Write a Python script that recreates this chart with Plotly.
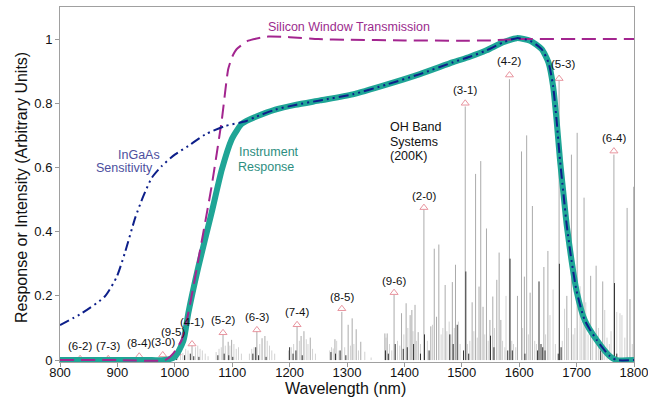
import plotly.graph_objects as go

# ---------------- data ----------------
# Silicon window transmission
si_wl = [800, 900, 983, 997, 1012, 1023.5, 1041, 1064, 1082, 1093, 1100, 1108, 1128, 1163, 1200,
         1250, 1300, 1400, 1500, 1550, 1600, 1700, 1800]
si_val = [0.0, 0.0, 0.0, 0.02, 0.0625, 0.146, 0.3125, 0.54, 0.75, 0.906, 0.945, 0.969, 0.995, 1.008, 1.006,
          1.0, 0.998, 0.996, 0.995, 0.996, 1.0, 1.0, 1.0]

# Instrument response
resp_wl = [800, 900, 960, 983, 1000, 1015, 1023.5, 1041, 1064, 1082, 1099, 1108, 1116, 1125, 1140,
           1175, 1210, 1253, 1310, 1370, 1427, 1485, 1514, 1543, 1572, 1596, 1619, 1639, 1651,
           1659, 1665, 1671, 1677, 1683, 1691, 1700, 1714, 1735, 1758, 1770, 1800]
resp_val = [0.0, 0.0, 0.0, 0.0, 0.01, 0.06, 0.146, 0.29, 0.458, 0.594, 0.6875, 0.715, 0.735, 0.745, 0.757,
            0.78, 0.795, 0.809, 0.828, 0.859, 0.891, 0.928, 0.945, 0.965, 0.99, 1.003, 0.995, 0.969, 0.927,
            0.854, 0.75, 0.625, 0.52, 0.417, 0.3125, 0.215, 0.125, 0.0625, 0.012, 0.0, 0.0]

# InGaAs sensitivity (short-wave part; beyond ~1120 nm it coincides with the response curve)
ingaas_wl = [800, 838, 878, 899, 913, 931, 945, 960, 977, 1000, 1023.5, 1053, 1087.5, 1114]
ingaas_val = [0.109, 0.146, 0.198, 0.26, 0.334, 0.443, 0.51, 0.568, 0.604, 0.64, 0.667, 0.703, 0.729, 0.74]

# OH emission lines
oh_gray_wl = [1030, 1084, 1093, 1099, 1143, 1152, 1157, 1213, 1220, 1225, 1236, 1279, 1291, 1302, 1309,
              1316, 1324, 1366, 1370, 1382, 1395, 1403, 1410, 1413, 1418.5, 1424, 1434, 1446, 1452,
              1456, 1460, 1471, 1483.5, 1489, 1506, 1518, 1524, 1530, 1533, 1537, 1543, 1549, 1554,
              1561, 1565, 1568, 1583, 1597, 1604, 1609, 1613, 1619, 1623, 1643, 1650, 1669.5, 1683,
              1691, 1701, 1713, 1724.5, 1734, 1745.5, 1765, 1788, 1793, 1799.5]
oh_gray_h = [0.045, 0.08, 0.057, 0.063, 0.09, 0.068, 0.075, 0.105, 0.075, 0.09, 0.07, 0.065, 0.15, 0.11, 0.13,
             0.096, 0.057, 0.083, 0.083, 0.203, 0.146, 0.177, 0.14, 0.156, 0.172, 0.087, 0.47, 0.105, 0.347,
             0.135, 0.36, 0.234, 0.243, 0.297, 0.79, 0.18, 0.58, 0.229, 0.62, 0.166, 0.41, 0.125, 0.198,
             0.25, 0.335, 0.125, 0.875, 0.2, 0.65, 0.26, 0.70, 0.21, 0.48, 0.29, 0.34, 0.87, 0.2,
             0.64, 0.708, 0.506, 0.2625, 0.294, 0.245, 0.64, 0.474, 0.19, 0.54]

oh_light_wl = [1005, 1010, 1014, 1019, 1023, 1036, 1040, 1044, 1048, 1053, 1058,
               1072, 1077, 1081, 1088, 1096, 1103, 1107, 1111, 1116,
               1130, 1134, 1138, 1148, 1161, 1165, 1169, 1174,
               1198, 1203, 1207, 1217, 1229, 1232, 1240, 1245,
               1270, 1273, 1276, 1282, 1286, 1296, 1306, 1312, 1320, 1331, 1342,
               1368, 1374, 1378, 1388, 1392, 1399, 1406, 1415, 1421, 1428,
               1440, 1449, 1464, 1467, 1474, 1478, 1481, 1487, 1494, 1497,
               1510, 1514, 1521, 1527, 1540, 1546, 1557, 1571, 1575,
               1577, 1587, 1590, 1594, 1606, 1616, 1627, 1630,
               1646, 1653.6, 1659, 1663, 1675, 1679, 1686, 1694, 1697, 1706, 1709, 1716, 1720,
               1728, 1738, 1741, 1749, 1753, 1757, 1760, 1770, 1775.6, 1779, 1784, 1797]
oh_light_h = [0.02, 0.028, 0.022, 0.035, 0.03, 0.04, 0.045, 0.035, 0.03, 0.02, 0.012,
              0.025, 0.035, 0.04, 0.045, 0.045, 0.05, 0.035, 0.04, 0.02,
              0.02, 0.035, 0.04, 0.05, 0.06, 0.045, 0.03, 0.02,
              0.03, 0.04, 0.05, 0.06, 0.065, 0.05, 0.035, 0.02,
              0.03, 0.04, 0.036, 0.06, 0.03, 0.04, 0.045, 0.05, 0.03, 0.026, 0.008,
              0.07, 0.05, 0.03, 0.06, 0.045, 0.08, 0.1, 0.09, 0.06, 0.05,
              0.06, 0.11, 0.08, 0.1, 0.09, 0.12, 0.08, 0.1, 0.12, 0.05,
              0.05, 0.06, 0.09, 0.07, 0.08, 0.06, 0.1, 0.06, 0.04,
              0.2, 0.06, 0.05, 0.04, 0.1, 0.08, 0.06, 0.05,
              0.08, 0.14, 0.22, 0.05, 0.06, 0.16, 0.1, 0.08, 0.1, 0.23, 0.12, 0.18, 0.08,
              0.08, 0.1, 0.06, 0.156, 0.07, 0.05, 0.09, 0.15, 0.146, 0.14, 0.07, 0.05]

oh_dark_wl = [1003, 1017, 1027, 1033, 1042, 1075, 1086, 1094, 1101, 1136, 1141, 1146, 1159,
              1200, 1206, 1211, 1222, 1272, 1280, 1288, 1298, 1367, 1372, 1384, 1398, 1405, 1416, 1428,
              1435, 1443, 1479, 1485, 1492, 1503, 1507, 1512, 1550, 1556,
              1580, 1584, 1588, 1610, 1632, 1634.5, 1638, 1641, 1645, 1668, 1670, 1673,
              1742, 1766, 1770]
oh_dark_h = [0.01, 0.015, 0.02, 0.012, 0.01, 0.015, 0.02, 0.015, 0.01, 0.02, 0.04, 0.015, 0.01,
             0.04, 0.02, 0.03, 0.015, 0.025, 0.02, 0.03, 0.015, 0.03, 0.02, 0.05, 0.035, 0.04, 0.05, 0.02,
             0.08, 0.03, 0.08, 0.05, 0.11, 0.03, 0.276, 0.02, 0.076, 0.04,
             0.03, 0.316, 0.03, 0.02, 0.03, 0.245, 0.05, 0.04, 0.03, 0.02, 0.3, 0.04,
             0.03, 0.24, 0.02]

# OH band heads
band_names = ["(6-2)", "(7-3)", "(8-4)", "(3-0)", "(9-5)", "(4-1)", "(5-2)", "(6-3)", "(7-4)",
              "(8-5)", "(9-6)", "(2-0)", "(3-1)", "(4-2)", "(5-3)", "(6-4)"]
band_wl = [835, 884, 938, 979, 1004, 1030, 1084, 1143, 1213, 1291, 1382, 1434, 1506, 1583, 1669.5, 1765]
band_peak = [0.004, 0.004, 0.012, 0.016, 0.022, 0.05, 0.085, 0.094, 0.11, 0.16, 0.21, 0.475, 0.80,
             0.888, 0.877, 0.651]

x_ticks = [800, 900, 1000, 1100, 1200, 1300, 1400, 1500, 1600, 1700, 1800]
y_ticks = [0, 0.2, 0.4, 0.6, 0.8, 1.0]
y_tick_text = ["0", "0.2", "0.4", "0.6", "0.8", "1"]

# ---------------- styles / layout constants ----------------
FONT = "Arial, Liberation Sans, sans-serif"
label_dy = [13, 13, 13, 13, 21, 22, 13, 13, 13, 12, 12, 12, 13, 14, 15, 13]
label_dx = [0, 0, 0, 0, -4, 0, 0, 0, 0, 0, 0, 0, 0, 0, 4, 0]
ML, MR, MT, MB = 60, 14, 7, 40
PW, PH = 648 - ML - MR, 402 - MT - MB


def sticks(wls, hs):
    xs, ys = [], []
    for w, h in zip(wls, hs):
        xs += [w, w, None]
        ys += [0, h, None]
    return xs, ys


fig = go.Figure()

for wls, hs, col in [(oh_light_wl, oh_light_h, "#d2d2d2"),
                     (oh_gray_wl, oh_gray_h, "#ababab"),
                     (oh_dark_wl, oh_dark_h, "#333333")]:
    xs, ys = sticks(wls, hs)
    fig.add_trace(go.Scatter(x=xs, y=ys, mode="lines", line=dict(color=col, width=1),
                             hoverinfo="skip", showlegend=False))

# band-head markers
fig.add_trace(go.Scatter(x=band_wl, y=band_peak, mode="markers",
                         marker=dict(symbol="triangle-up-open", size=7, color="#e8959f",
                                     line=dict(width=1, color="#e8959f")),
                         showlegend=False, hoverinfo="skip"))

# instrument response (thick teal)
fig.add_trace(go.Scatter(x=resp_wl, y=resp_val, mode="lines",
                         line=dict(color="#1fa596", width=6, shape="spline", smoothing=0.6),
                         showlegend=False))
# silicon window
fig.add_trace(go.Scatter(x=si_wl, y=si_val, mode="lines",
                         line=dict(color="#a3258f", width=2, dash="14px,7px", shape="spline", smoothing=0.5),
                         showlegend=False))
# InGaAs sensitivity
ing_x = ingaas_wl + [w for w, v in zip(resp_wl, resp_val) if w > 1120]
ing_y = ingaas_val + [v for w, v in zip(resp_wl, resp_val) if w > 1120]
fig.add_trace(go.Scatter(x=ing_x, y=ing_y, mode="lines",
                         line=dict(color="#0d1f8a", width=2, dash="10px,4px,2px,4px,2px,4px",
                                   shape="spline", smoothing=0.6),
                         showlegend=False))

annotations = []
for name, w, p, dy, dx in zip(band_names, band_wl, band_peak, label_dy, label_dx):
    annotations.append(dict(x=w, y=p, text=name, showarrow=False, yshift=dy, xshift=dx,
                            font=dict(family=FONT, size=11.5, color="#111111")))

annotations += [
    dict(x=1304, y=1.0375, text="Silicon Window Transmission", showarrow=False,
         font=dict(family=FONT, size=12.5, color="#9b2b8e")),
    dict(x=937, y=0.64, text="InGaAs", showarrow=False,
         font=dict(family=FONT, size=12.5, color="#4d4f9e")),
    dict(x=913, y=0.597, text="Sensitivity", showarrow=False,
         font=dict(family=FONT, size=12.5, color="#4d4f9e")),
    dict(x=1108, y=0.647, text="Instrument", showarrow=False, xanchor="left",
         font=dict(family=FONT, size=12.5, color="#2d8e80")),
    dict(x=1106, y=0.60, text="Response", showarrow=False, xanchor="left",
         font=dict(family=FONT, size=12.5, color="#2d8e80")),
    dict(x=1371, y=0.726, text="OH Band", showarrow=False, xanchor="left",
         font=dict(family=FONT, size=12.5, color="#111111")),
    dict(x=1371, y=0.679, text="Systems", showarrow=False, xanchor="left",
         font=dict(family=FONT, size=12.5, color="#111111")),
    dict(x=1371, y=0.635, text="(200K)", showarrow=False, xanchor="left",
         font=dict(family=FONT, size=12.5, color="#111111")),
    # axis titles
    dict(xref="paper", yref="paper", x=(345 - ML) / PW, y=-(389 - (MT + PH)) / PH,
         xanchor="center", yanchor="middle",
         text="Wavelength (nm)", showarrow=False,
         font=dict(family=FONT, size=16, color="#111111")),
    dict(xref="paper", yref="paper", x=-(ML - 21) / PW, y=((MT + PH) - 188) / PH,
         xanchor="center", yanchor="middle",
         text="Response or Intensity (Arbitrary Units)", showarrow=False, textangle=-90,
         font=dict(family=FONT, size=16, color="#111111")),
]

fig.update_layout(
    width=648, height=402,
    margin=dict(l=ML, r=MR, t=MT, b=MB),
    paper_bgcolor="white", plot_bgcolor="white",
    font=dict(family=FONT, color="#111111"),
    annotations=annotations,
    showlegend=False,
)
fig.update_xaxes(range=[800, 1800], tickvals=x_ticks, ticks="outside", ticklen=4, tickcolor="#999999",
                 showline=True, linecolor="#a0a0a0", linewidth=1, mirror=True, showgrid=False,
                 zeroline=False, tickfont=dict(size=13, color="#111111"), automargin=False,
                 ticklabelstandoff=-6, ticklabeloverflow="allow")
fig.update_yaxes(range=[-0.006, 1.1], tickvals=y_ticks, ticktext=y_tick_text, ticks="outside", ticklen=4,
                 tickcolor="#999999", showline=True, linecolor="#a0a0a0", linewidth=1, mirror=True,
                 showgrid=False, zeroline=False, tickfont=dict(size=13, color="#111111"), automargin=False)

fig.write_html("out.html", config={"displayModeBar": False},
               post_script="document.body.style.margin='0';document.body.style.overflow='hidden';")
